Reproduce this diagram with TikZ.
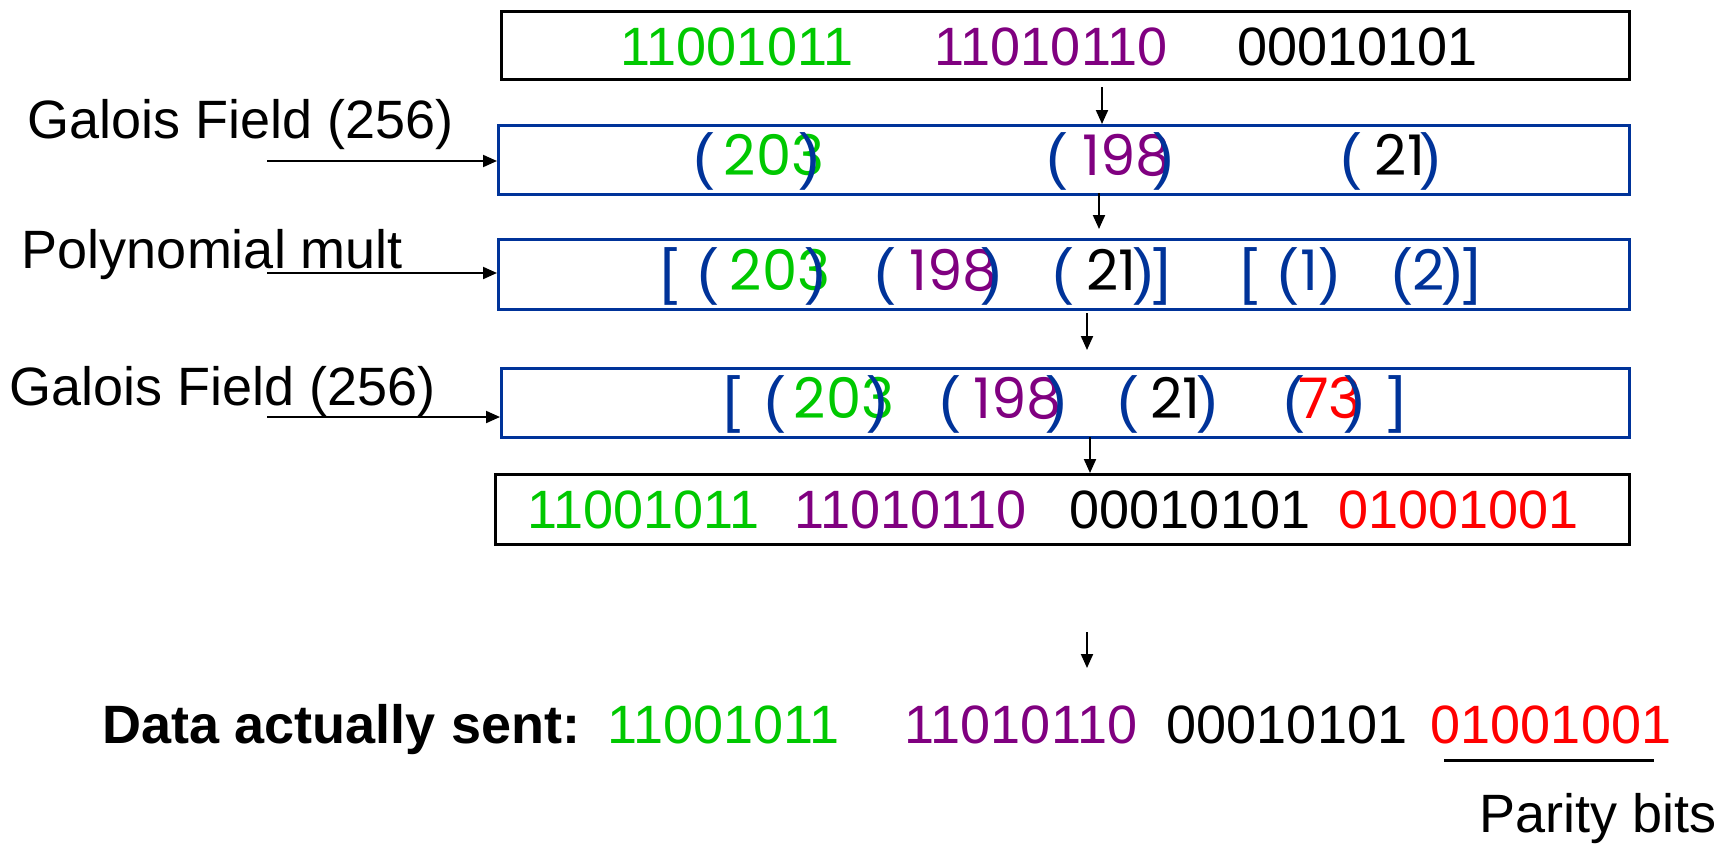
\documentclass[tikz,border=0pt]{standalone}
\usepackage{fontspec}
\setmainfont{Liberation Sans}
\newfontfamily\geofont{Poppins}
\usetikzlibrary{arrows.meta}

\definecolor{bitgreen}{RGB}{0,200,0}
\definecolor{bitpurple}{RGB}{128,0,128}
\definecolor{bitred}{RGB}{255,0,0}
\definecolor{boxblue}{RGB}{0,51,153}

\begin{document}
\begin{tikzpicture}[x=1pt,y=-1pt,
  frame/.style={draw, line width=2.5pt, anchor=north west, inner sep=0pt},
  txt/.style={anchor=base, inner sep=0pt, font=\fontsize{54}{60}\selectfont},
  gf/.style={anchor=base, inner sep=0pt, font=\geofont\fontsize{56}{60}\selectfont},
  par/.style={anchor=base, inner sep=0pt, font=\fontsize{62}{62}\selectfont, text=boxblue},
  arr/.style={-{Triangle[length=14pt,width=12pt]}, line width=2pt}]
\useasboundingbox (0,0) rectangle (1722,844);

% ---- boxes ----
\node[frame, draw=black,   minimum width=1128pt, minimum height=68pt] (b1) at (500,10) {};
\node[frame, draw=boxblue, minimum width=1131pt, minimum height=69pt] (b2) at (497,124) {};
\node[frame, draw=boxblue, minimum width=1131pt, minimum height=70pt] (b3) at (497,238) {};
\node[frame, draw=boxblue, minimum width=1128pt, minimum height=69pt] (b4) at (500,367) {};
\node[frame, draw=black,   minimum width=1134pt, minimum height=70pt] (b5) at (494,473) {};

% ---- row 1: input bytes ----
\node[txt, text=bitgreen]  (r1a) at (737,65)    {11001011};
\node[txt, text=bitpurple] (r1b) at (1051,65)   {11010110};
\node[txt]                 (r1c) at (1357.5,65) {00010101};

% ---- row 2: field elements ----
\node[par] (r2p1) at (703.5,177) {(};
\node[gf, text=bitgreen] (r2a) at (774,175) {203};
\node[par] (r2q1) at (810,177) {)};
\node[par] (r2p2) at (1056.5,177) {(};
\node[gf, text=bitpurple] (r2b) at (1126.5,175) {198};
\node[par] (r2q2) at (1164,177) {)};
\node[par] (r2p3) at (1351,177) {(};
\node[gf] (r2c) at (1400,175) {21};
\node[par] (r2q3) at (1430.5,177) {)};

% ---- row 3: polynomial multiplication ----
\node[par] (r3s1) at (669,292) {[};
\node[par] (r3p1) at (708,292) {(};
\node[gf, text=bitgreen] (r3a) at (780,290) {203};
\node[par] (r3q1) at (815.5,292) {)};
\node[par] (r3p2) at (885,292) {(};
\node[gf, text=bitpurple] (r3b) at (954,290) {198};
\node[par] (r3q2) at (992,292) {)};
\node[par] (r3p3) at (1063,292) {(};
\node[gf] (r3c) at (1111.5,290) {21};
\node[par] (r3q3) at (1143.5,292) {)};
\node[par] (r3e1) at (1162.5,292) {]};
\node[par] (r3s2) at (1249,292) {[};
\node[par] (r3p4) at (1288,292) {(};
\node[gf, text=boxblue] (r3d) at (1309.5,290) {1};
\node[par] (r3q4) at (1330,292) {)};
\node[par] (r3p5) at (1402,292) {(};
\node[gf, text=boxblue] (r3e) at (1429,290) {2};
\node[par] (r3q5) at (1453,292) {)};
\node[par] (r3e2) at (1472.5,292) {]};

% ---- row 4: result with parity element ----
\node[par] (r4s) at (732.5,420) {[};
\node[par] (r4p1) at (774.5,420) {(};
\node[gf, text=bitgreen] (r4a) at (844,418) {203};
\node[par] (r4q1) at (878,420) {)};
\node[par] (r4p2) at (949.5,420) {(};
\node[gf, text=bitpurple] (r4b) at (1017.5,418) {198};
\node[par] (r4q2) at (1057,420) {)};
\node[par] (r4p3) at (1127.5,420) {(};
\node[gf] (r4c) at (1175.5,418) {21};
\node[par] (r4q3) at (1207.5,420) {)};
\node[par] (r4p4) at (1293.5,420) {(};
\node[gf, text=bitred] (r4d) at (1330,418) {73};
\node[par] (r4q4) at (1355,420) {)};
\node[par] (r4e) at (1397.5,420) {]};

% ---- row 5: coded bytes ----
\node[txt, text=bitgreen]  (r5a) at (643.5,528)  {11001011};
\node[txt, text=bitpurple] (r5b) at (910.5,528)  {11010110};
\node[txt]                 (r5c) at (1190,528)   {00010101};
\node[txt, text=bitred]    (r5d) at (1458.5,528) {01001001};

% ---- side labels ----
\node[txt] (lab1) at (240.5,138) {Galois Field (256)};
\node[txt] (lab2) at (212.5,268) {Polynomial mult};
\node[txt] (lab3) at (222.5,405) {Galois Field (256)};

\coordinate (h1) at (267,161);
\coordinate (h2) at (267,273);
\coordinate (h3) at (267,417);
\draw[arr] (h1) -- (h1 -| b2.west);
\draw[arr] (h2) -- (h2 -| b3.west);
\draw[arr] (h3) -- (h3 -| b4.west);

% ---- vertical flow arrows ----
\coordinate (v1) at (1102,87);
\draw[arr] (v1) -- (v1 |- b2.north);
\coordinate (v2) at (1099,193);
\coordinate (v2e) at (1099,229);
\draw[arr] (v2) -- (v2e);
\coordinate (v3) at (1087,313);
\coordinate (v3e) at (1087,350);
\draw[arr] (v3) -- (v3e);
\coordinate (v4) at (1090,437);
\draw[arr] (v4) -- (v4 |- b5.north);
\coordinate (v5) at (1087,632);
\coordinate (v5e) at (1087,668);
\draw[arr] (v5) -- (v5e);

% ---- transmitted data ----
\node[txt, font=\fontsize{54}{60}\selectfont\bfseries] (sent) at (341.5,743) {Data actually sent:};
\node[txt, text=bitgreen]  (s1) at (723.5,743) {11001011};
\node[txt, text=bitpurple] (s2) at (1021,743)  {11010110};
\node[txt]                 (s3) at (1287,743)  {00010101};
\node[txt, text=bitred]    (s4) at (1551,743)  {01001001};
\coordinate (u1) at (1444,760);
\coordinate (u2) at (1654,760);
\draw[line width=3pt] (u1) -- (u2);
\node[txt] (parity) at (1598,832) {Parity bits};
\end{tikzpicture}
\end{document}
